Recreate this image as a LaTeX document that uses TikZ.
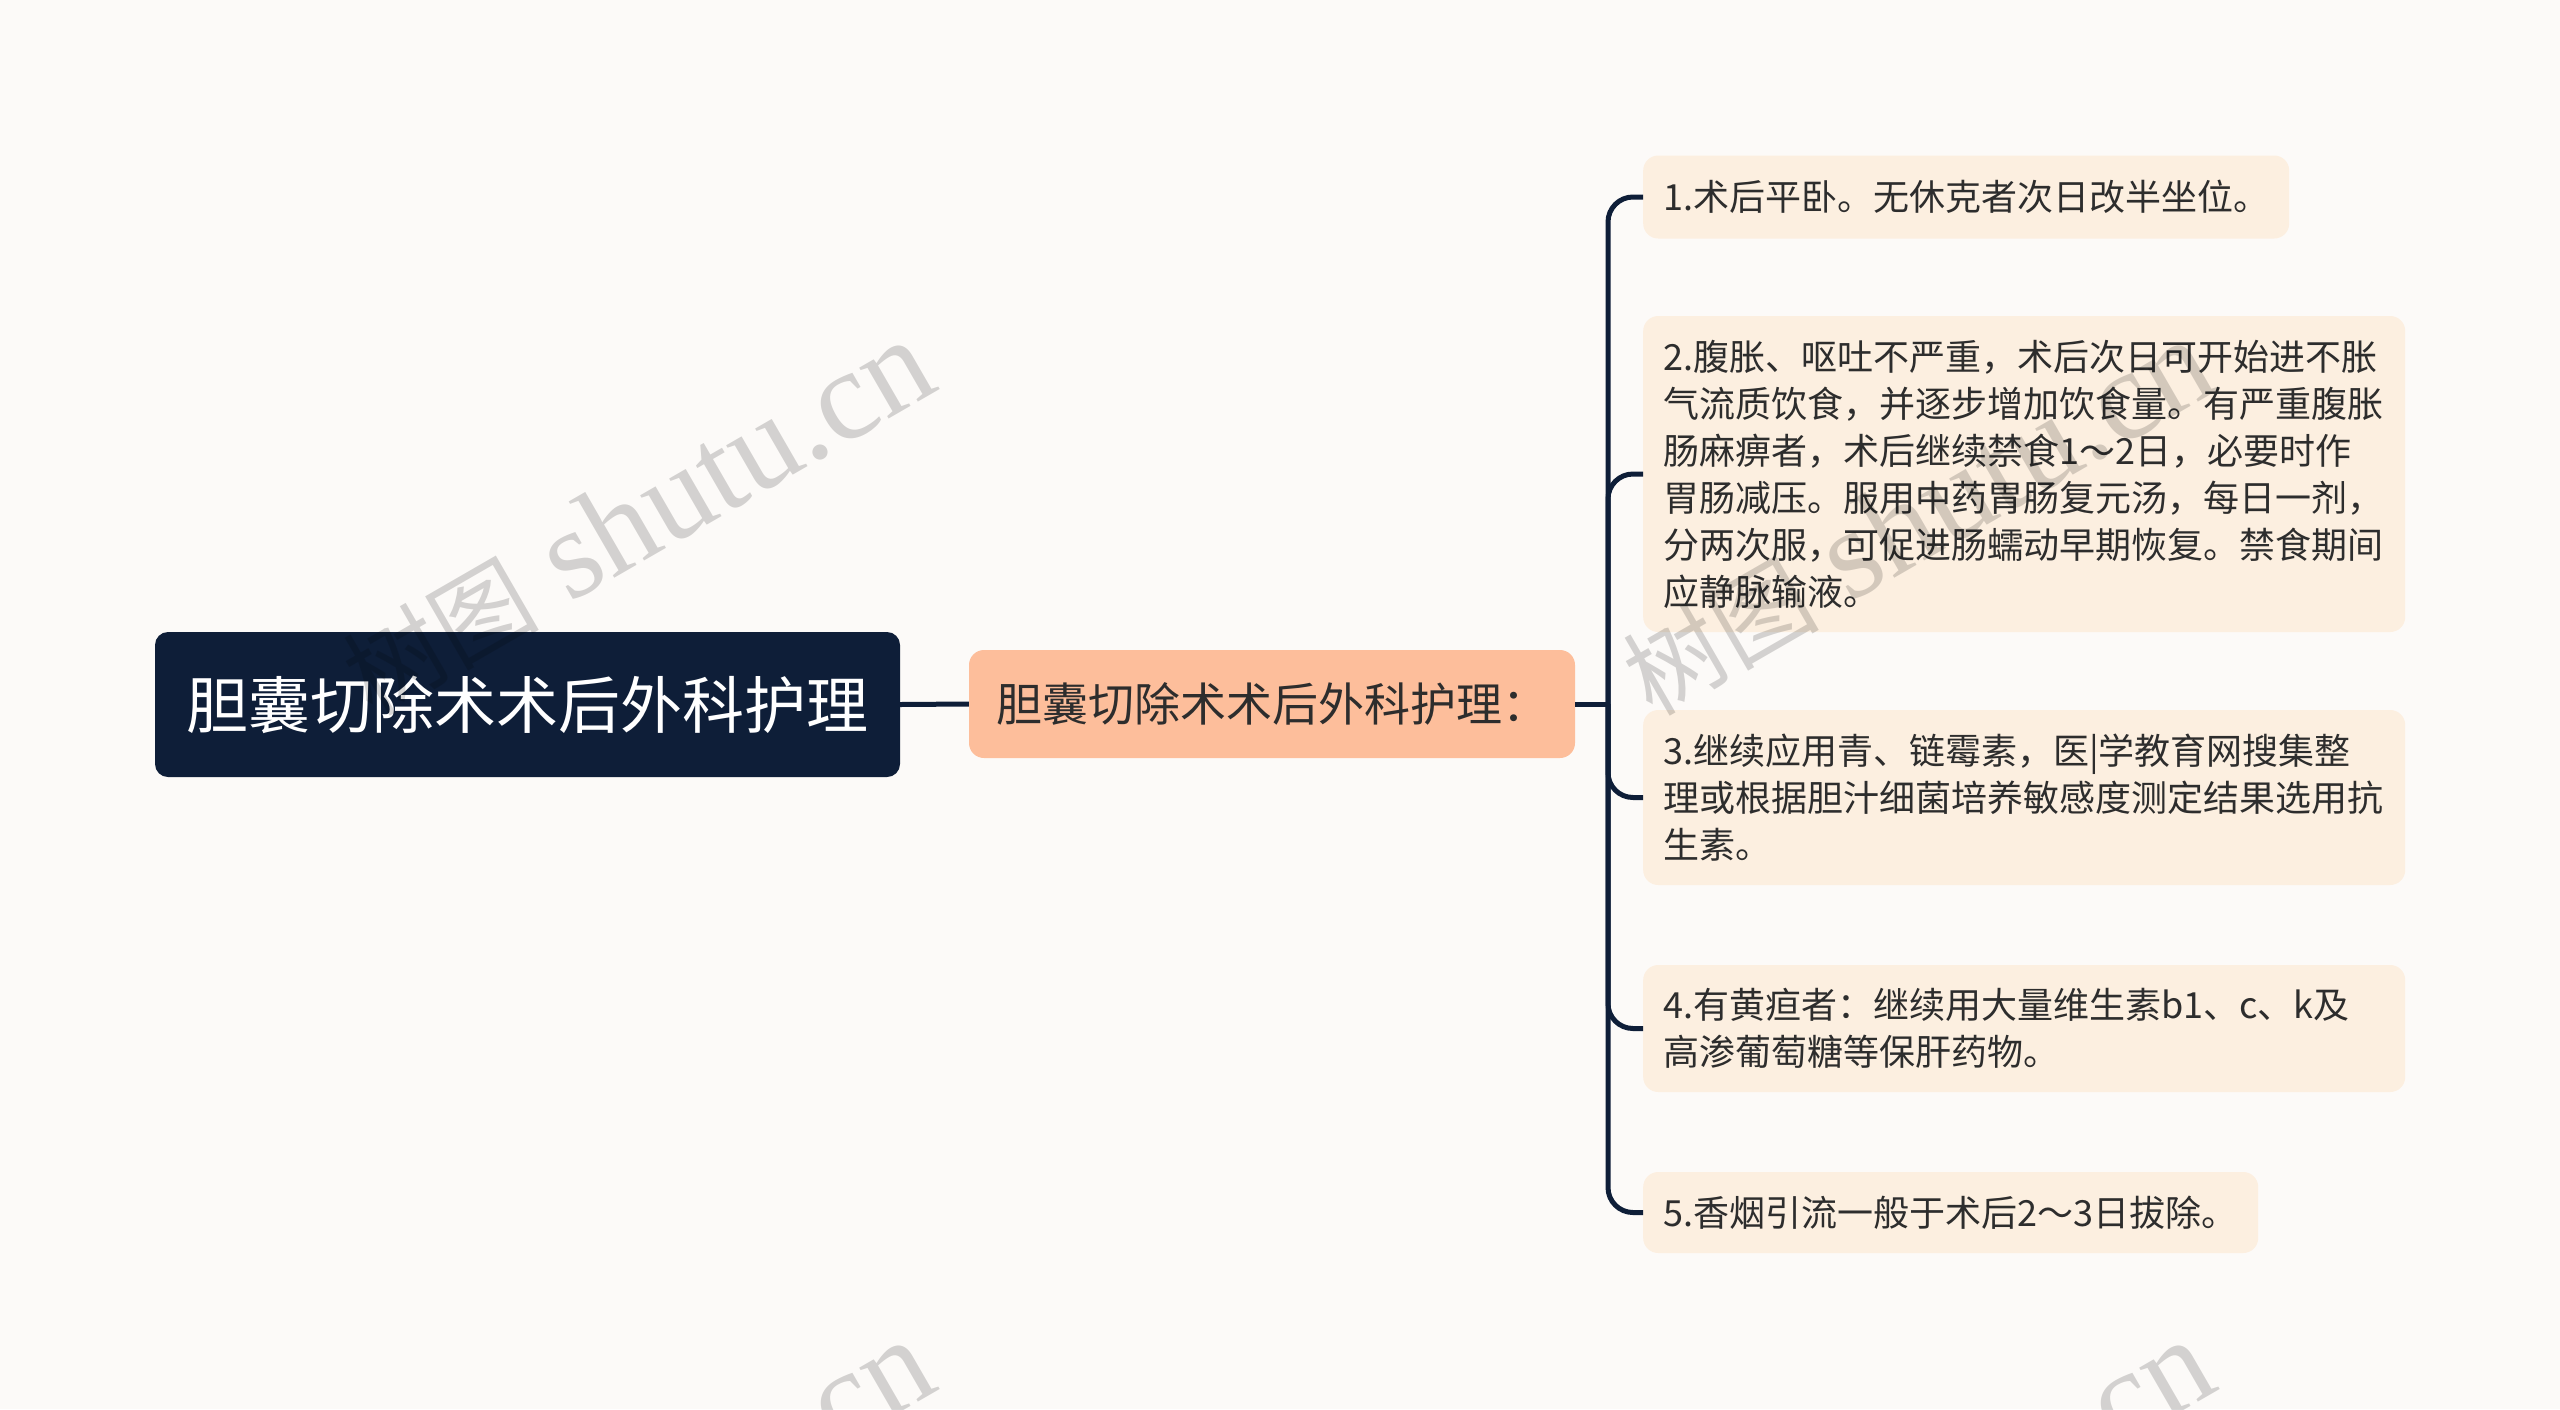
\documentclass[tikz,border=0pt]{standalone}
\usepackage{fontspec}
\setmainfont{Noto Sans CJK SC}
\newfontfamily\wmlatin{Liberation Serif}
\newfontfamily\wmcjk{Noto Sans CJK SC}
\definecolor{bgc}{RGB}{252,250,248}
\definecolor{navy}{RGB}{14,30,56}
\definecolor{peach}{RGB}{253,190,155}
\definecolor{cream}{RGB}{252,239,224}
\definecolor{txt}{RGB}{45,45,45}
\tikzset{
  rootbox/.style={fill=navy, text=white, rounded corners=13pt, minimum width=745pt, minimum height=145pt, inner sep=0pt, font=\fontsize{62pt}{74pt}\selectfont},
  subbox/.style={fill=peach, text=txt, rounded corners=15pt, minimum width=606pt, minimum height=108pt, inner sep=0pt, font=\fontsize{46pt}{56pt}\selectfont},
  leafbox/.style={fill=cream, text=txt, rounded corners=15pt, inner xsep=20pt, inner ysep=0pt, anchor=west, align=left, font=\fontsize{36pt}{47pt}\selectfont},
  conn/.style={draw=navy, line width=5pt},
  wm/.style={text=black, opacity=0.16, anchor=base west, rotate=30, inner sep=0pt, font=\wmlatin\fontsize{128pt}{136pt}\selectfont}
}
\begin{document}
\begin{tikzpicture}[x=1pt,y=-1pt]
\fill[bgc] (0,0) rectangle (2560,1409);
\useasboundingbox (0,0) rectangle (2560,1409);

\node[rootbox] (root) at (527.5,704.5) {胆囊切除术术后外科护理};
\node[subbox] (sub) at (1272,704) {胆囊切除术术后外科护理：};

\node[leafbox, minimum width=645pt, minimum height=83pt] (l1) at (1643,197) {1.术后平卧。无休克者次日改半坐位。};
\node[leafbox, text width=722pt, minimum height=316pt] (l2) at (1643,474) {2.腹胀、呕吐不严重，术后次日可开始进不胀\\气流质饮食，并逐步增加饮食量。有严重腹胀\\肠麻痹者，术后继续禁食1～2日，必要时作\\胃肠减压。服用中药胃肠复元汤，每日一剂，\\分两次服，可促进肠蠕动早期恢复。禁食期间\\应静脉输液。};
\node[leafbox, text width=722pt, minimum height=175pt] (l3) at (1643,797.5) {3.继续应用青、链霉素，医|学教育网搜集整\\理或根据胆汁细菌培养敏感度测定结果选用抗\\生素。};
\node[leafbox, text width=722pt, minimum height=127pt] (l4) at (1643,1028.5) {4.有黄疸者：继续用大量维生素b1、c、k及\\高渗葡萄糖等保肝药物。};
\node[leafbox, minimum width=615pt, minimum height=81pt] (l5) at (1643,1212.5) {5.香烟引流一般于术后2～3日拔除。};

\coordinate (tr) at (1608,704);
\draw[conn] (root.east) -- (sub.west);
\draw[conn] (sub.east) -- (tr);
\foreach \l in {l1,l2,l3,l4,l5}{
  \draw[conn, rounded corners=25pt] (tr) |- (\l.west);
}

\foreach \px/\py in {372/718, 1652/718, 372/1718, 1652/1718}{
  \node[wm] (w\px\py) at (\px,\py) {{\wmcjk\fontsize{98pt}{108pt}\selectfont 树图}\ shutu.cn};
}
\end{tikzpicture}
\end{document}
